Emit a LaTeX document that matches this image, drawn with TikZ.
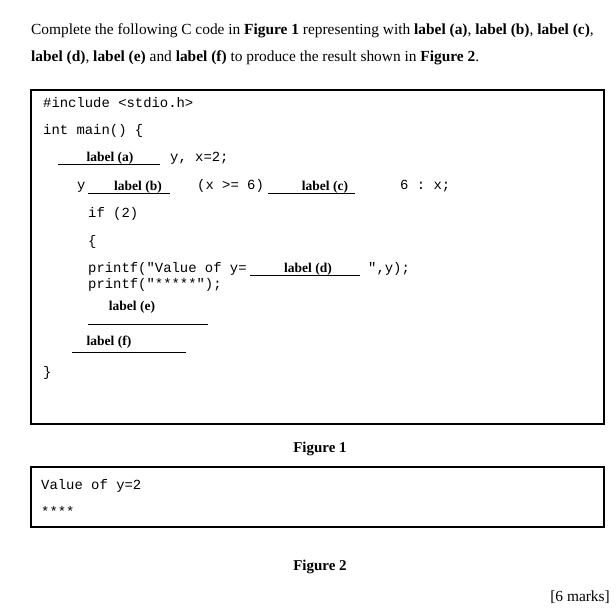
\documentclass[tikz,border=0pt]{standalone}
\usepackage{fontspec}
\setmainfont{Liberation Serif}
\setmonofont{Liberation Mono}
\begin{document}
\begin{tikzpicture}[x=1pt,y=-1pt,
  txt/.style={anchor=base west,inner sep=0,font=\fontsize{15.4}{17}\selectfont},
  code/.style={anchor=base west,inner sep=0,font=\ttfamily\fontsize{13.9}{15}\selectfont},
  lab/.style={anchor=base,inner sep=0,font=\bfseries\fontsize{13.5}{15}\selectfont},
  fig/.style={anchor=base,inner sep=0,font=\bfseries\fontsize{15}{17}\selectfont},
  ul/.style={line width=0.7pt},
  box/.style={draw,line width=1.4pt}]
\useasboundingbox (0,0) rectangle (616,614);
\node[txt] (t1) at (31,34) {Complete the following C code in \textbf{Figure 1} representing with \textbf{label (a)}, \textbf{label (b)}, \textbf{label (c)},};
\node[txt] (t2) at (31,61) {\textbf{label (d)}, \textbf{label (e)} and \textbf{label (f)} to produce the result shown in \textbf{Figure 2}.};
\draw[box] (31,90) rectangle (604,424);
\node[code] (c1) at (43,107) {\#include <stdio.h>};
\node[code] (c2) at (43,134) {int main() \{};
\draw[ul] (58,164) -- (160,164);
\node[lab] (la) at (110,161) {label (a)};
\node[code] (c3) at (170,161) {y, x=2;};
\node[code] (c4) at (77,189) {y};
\draw[ul] (88,193) -- (170,193);
\node[lab] (lb) at (138,190) {label (b)};
\node[code] (c5) at (197,189) {(x >= 6)};
\draw[ul] (268,193) -- (355,193);
\node[lab] (lc) at (325,190) {label (c)};
\node[code] (c6) at (400,189) {6 : x;};
\node[code] (c7) at (88,217) {if (2)};
\node[code] (c8) at (88,245) {\{};
\node[code] (c9) at (88,272) {printf("Value of y=};
\draw[ul] (250,275) -- (360,275);
\node[lab] (ld) at (308,272) {label (d)};
\node[code] (c10) at (368,272) {",y);};
\node[code] (c11) at (88,288) {printf("*****");};
\node[lab] (le) at (132,310) {label (e)};
\draw[ul] (88,324) -- (208,324);
\node[lab] (lf) at (109,345) {label (f)};
\draw[ul] (72,352) -- (186,352);
\node[code] (c12) at (43,376) {\}};
\node[fig] (f1) at (320,452) {Figure 1};
\draw[box] (31,467) rectangle (604,527);
\node[code] (o1) at (41,489) {Value of y=2};
\node[code] (o2) at (41,516) {****};
\node[fig] (f2) at (320,570) {Figure 2};
\node[txt,anchor=base east] (m) at (610,601) {[6 marks]};
\end{tikzpicture}
\end{document}
